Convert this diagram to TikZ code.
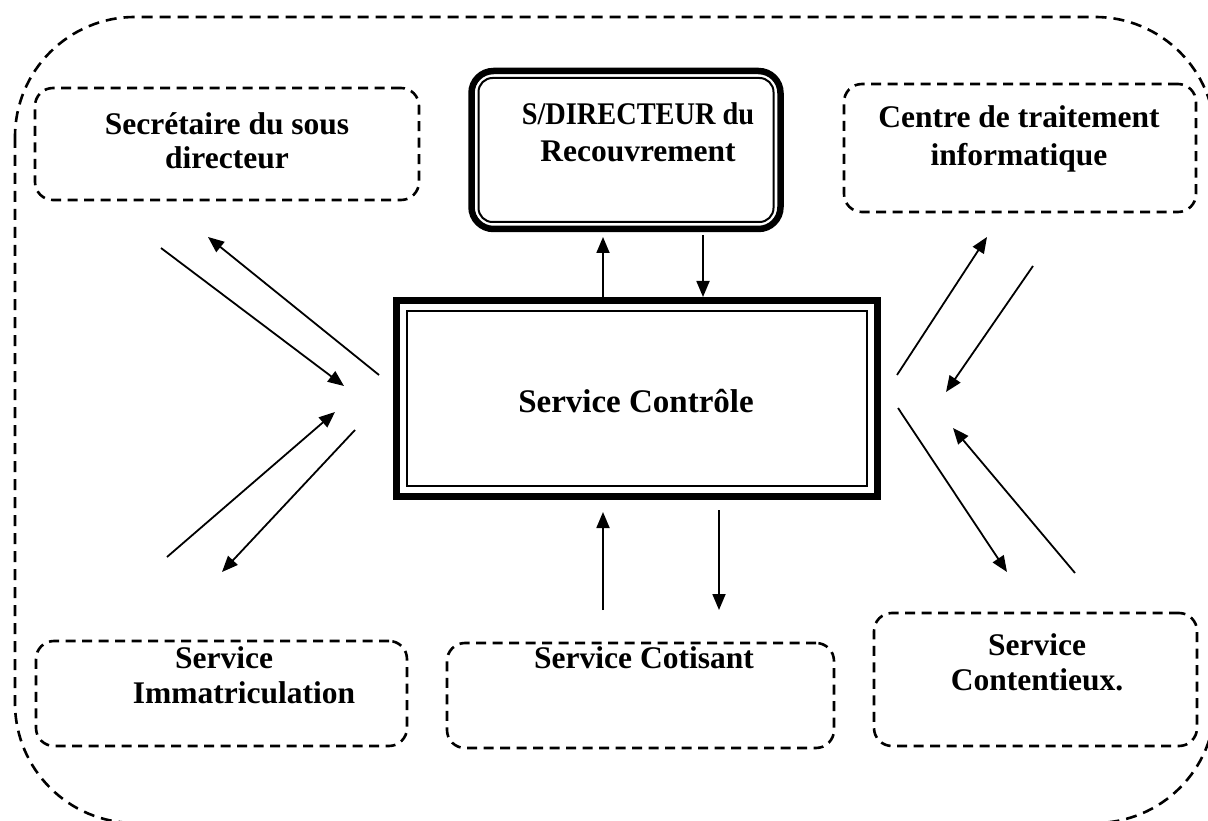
\documentclass[tikz,border=0pt]{standalone}
\usepackage{fontspec}
\setmainfont{Liberation Serif}
\usetikzlibrary{arrows.meta}
\begin{document}
\begin{tikzpicture}[x=1pt,y=-1pt,
  dbox/.style={draw, line width=2.6pt, dash pattern=on 10pt off 6.5pt, rounded corners=18pt, inner sep=0pt},
  lbl/.style={font=\bfseries\fontsize{31.5}{36}\selectfont, anchor=base, inner sep=0pt},
  biglbl/.style={font=\bfseries\fontsize{33}{38}\selectfont, anchor=base, inner sep=0pt},
  arr/.style={line width=1.8pt, -{Triangle[length=16pt,width=13pt]}},
  thickline/.style={line width=6.5pt},
  thinline/.style={line width=2pt}]
\useasboundingbox (0,0) rectangle (1208,821);
\clip (0,0) rectangle (1208,821);
% outer dashed frame
\draw[line width=2.6pt, dash pattern=on 11pt off 7pt, rounded corners=120pt] (15,17) rectangle (1215,823);
% dashed boxes
\node[dbox, minimum width=384pt, minimum height=112pt] (sec) at (227,144) {};
\node[dbox, minimum width=352pt, minimum height=128pt] (cti) at (1020,148) {};
\node[dbox, minimum width=371pt, minimum height=105pt] (imm) at (221.5,693.5) {};
\node[dbox, minimum width=387pt, minimum height=105pt] (cot) at (640.5,695.5) {};
\node[dbox, minimum width=323pt, minimum height=133pt] (cont) at (1035.5,679.5) {};
% director box (double rounded border)
\node[draw, thickline, rounded corners=22pt, minimum width=309pt, minimum height=158pt, inner sep=0pt] (dir) at (626,150) {};
\node[draw, thinline, rounded corners=14pt, minimum width=295pt, minimum height=144pt, inner sep=0pt] (dirin) at (626,150) {};
% control box (double border)
\node[draw, thickline, minimum width=481pt, minimum height=196pt, inner sep=0pt] (ctrl) at (637,398.5) {};
\node[draw, thinline, minimum width=460pt, minimum height=175pt, inner sep=0pt] (ctrlin) at (637,398.5) {};
% texts
\node[lbl] (tsec1) at (227,135) {Secrétaire du sous};
\node[lbl] (tsec2) at (227,169) {directeur};
\node[lbl] (tdir1) at (638,125) {\scalebox{0.9}[1]{S/DIRECTEUR du}};
\node[lbl] (tdir2) at (638,162) {Recouvrement};
\node[lbl] (tcti1) at (1019,128) {Centre de traitement};
\node[lbl] (tcti2) at (1019,166) {informatique};
\node[biglbl] (tctrl) at (636,412) {Service Contrôle};
\node[lbl] (timm1) at (224,668) {Service};
\node[lbl] (timm2) at (244,703) {Immatriculation};
\node[lbl] (tcot) at (644,668) {Service Cotisant};
\node[lbl] (tcont1) at (1037,655) {Service};
\node[lbl] (tcont2) at (1037,690) {Contentieux.};
% arrow end points
\coordinate (a1s) at (161,248);  \coordinate (a1e) at (344,386);
\coordinate (a2s) at (379,375);  \coordinate (a2e) at (208,237);
\coordinate (a3s) at (167,557);  \coordinate (a3e) at (335,412);
\coordinate (a4s) at (355,430);  \coordinate (a4e) at (222,572);
\coordinate (a5s) at (897,375);  \coordinate (a5e) at (987,237);
\coordinate (a6s) at (1033,266); \coordinate (a6e) at (946,392);
\coordinate (a7s) at (898,408);  \coordinate (a7e) at (1007,572);
\coordinate (a8s) at (1075,573); \coordinate (a8e) at (953,428);
\coordinate (a9s) at (603,297);  \coordinate (a9e) at (603,237);
\coordinate (a10s) at (703,235); \coordinate (a10e) at (703,297);
\coordinate (a11s) at (603,610); \coordinate (a11e) at (603,512);
\coordinate (a12s) at (719,510); \coordinate (a12e) at (719,610);
\foreach \i in {1,...,12} {\draw[arr] (a\i s) -- (a\i e);}
\end{tikzpicture}
\end{document}
